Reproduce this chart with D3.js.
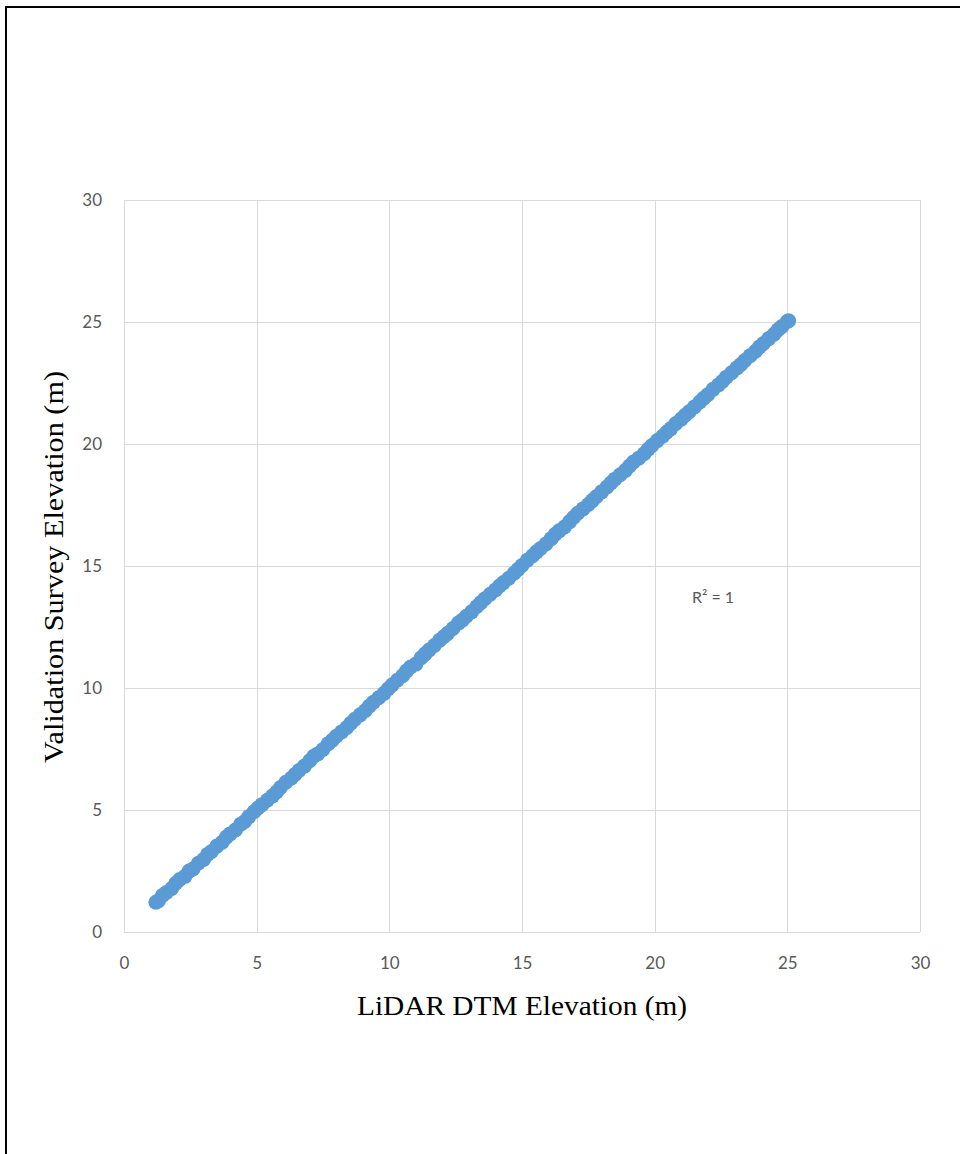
<!DOCTYPE html>
<html>
<head>
<meta charset="utf-8">
<script src="https://cdn.jsdelivr.net/npm/d3@7"></script>
<style>
  body { margin: 0; background: #fff; }
  svg { display: block; }
</style>
</head>
<body>
<div id="chart"></div>
<script>
// Datos
const xTicks = [0, 5, 10, 15, 20, 25, 30];
const yTicks = [0, 5, 10, 15, 20, 25, 30];
const lidarVals = [1.2,1.3,1.45,1.6,1.8,1.95,2.1,2.3,2.45,2.6,2.8,3.0,3.15,3.3,3.5,3.7,3.85,4.0,4.2,4.4,4.55,4.7,4.9,5.05,5.2,5.4,5.6,5.75,5.9,6.1,6.3,6.45,6.6,6.8,7.0,7.15,7.3,7.5,7.7,7.85,8.0,8.2,8.4,8.55,8.7,8.9,9.1,9.25,9.4,9.6,9.8,9.95,10.1,10.3,10.5,10.65,10.8,11.0,11.2,11.35,11.5,11.7,11.9,12.05,12.2,12.4,12.6,12.75,12.9,13.1,13.3,13.45,13.6,13.8,14.0,14.15,14.3,14.5,14.7,14.85,15.0,15.2,15.4,15.55,15.7,15.9,16.1,16.25,16.4,16.6,16.8,16.95,17.1,17.3,17.5,17.65,17.8,18.0,18.2,18.35,18.5,18.7,18.9,19.05,19.2,19.4,19.6,19.75,19.9,20.1,20.3,20.45,20.6,20.8,21.0,21.15,21.3,21.5,21.7,21.85,22.0,22.2,22.4,22.55,22.7,22.9,23.1,23.25,23.4,23.6,23.8,23.95,24.1,24.3,24.5,24.65,24.8,25.0,25.05];
const surveyVals = [1.22,1.28,1.5,1.62,1.78,2.0,2.15,2.28,2.5,2.58,2.82,2.97,3.18,3.3,3.52,3.68,3.88,4.02,4.18,4.42,4.53,4.72,4.93,5.08,5.22,5.4,5.58,5.74,5.92,6.14,6.3,6.46,6.62,6.8,7.02,7.2,7.3,7.48,7.72,7.86,8.02,8.2,8.38,8.56,8.72,8.9,9.08,9.26,9.42,9.6,9.78,9.96,10.12,10.32,10.5,10.7,10.86,10.98,11.24,11.4,11.56,11.74,11.96,12.1,12.24,12.44,12.66,12.78,12.94,13.12,13.34,13.5,13.66,13.84,14.02,14.18,14.32,14.5,14.7,14.86,15.02,15.24,15.42,15.58,15.72,15.9,16.12,16.3,16.44,16.6,16.82,17.0,17.16,17.34,17.52,17.68,17.84,18.04,18.24,18.4,18.56,18.74,18.92,19.1,19.26,19.42,19.6,19.78,19.94,20.14,20.32,20.48,20.62,20.84,21.02,21.18,21.32,21.52,21.72,21.88,22.02,22.24,22.42,22.56,22.74,22.92,23.12,23.26,23.42,23.62,23.8,23.98,24.12,24.32,24.5,24.68,24.82,25.02,25.05];
const r2Label = 'R² = 1';

const width = 960, height = 1154;
const plot = { left: 124, right: 920, top: 200, bottom: 932 };

const svg = d3.select('#chart').append('svg')
  .attr('width', width)
  .attr('height', height);

// Marco exterior
svg.append('rect')
  .attr('x', 6).attr('y', 7)
  .attr('width', width + 10).attr('height', height + 10)
  .attr('fill', 'none')
  .attr('stroke', '#000')
  .attr('stroke-width', 2);

const x = d3.scaleLinear().domain([0, 30]).range([plot.left, plot.right]);
const y = d3.scaleLinear().domain([0, 30]).range([plot.bottom, plot.top]);

// Rejilla
const grid = svg.append('g').attr('stroke', '#d9d9d9').attr('stroke-width', 1);
grid.selectAll('line.v').data(xTicks).enter().append('line')
  .attr('x1', d => Math.round(x(d)) + 0.5).attr('x2', d => Math.round(x(d)) + 0.5)
  .attr('y1', plot.top).attr('y2', plot.bottom);
grid.selectAll('line.h').data(yTicks).enter().append('line')
  .attr('y1', d => Math.round(y(d)) + 0.5).attr('y2', d => Math.round(y(d)) + 0.5)
  .attr('x1', plot.left).attr('x2', plot.right);

// Ejes (solo etiquetas)
const xAxis = svg.append('g')
  .attr('transform', `translate(0,${plot.bottom})`)
  .call(d3.axisBottom(x).tickValues(xTicks).tickSize(0).tickPadding(25));
const yAxis = svg.append('g')
  .attr('transform', `translate(${plot.left},0)`)
  .call(d3.axisLeft(y).tickValues(yTicks).tickSize(0).tickPadding(22));
[xAxis, yAxis].forEach(a => {
  a.select('.domain').remove();
  a.selectAll('text')
    .attr('fill', '#595959')
    .style('font-family', 'Lato, "Liberation Sans", sans-serif')
    .style('font-size', '17px');
});

// Puntos
const pts = lidarVals.map((v, i) => ({ x: v, y: surveyVals[i] }));
svg.append('g').selectAll('circle')
  .data(pts)
  .enter().append('circle')
  .attr('cx', d => x(d.x))
  .attr('cy', d => y(d.y))
  .attr('r', 7.5)
  .attr('fill', '#5b9bd5');

// Etiqueta R²
svg.append('text')
  .attr('x', 713).attr('y', 603)
  .attr('text-anchor', 'middle')
  .attr('fill', '#595959')
  .style('font-family', 'Lato, "Liberation Sans", sans-serif')
  .style('font-size', '16px')
  .text(r2Label);

// Títulos de ejes
svg.append('text')
  .attr('x', 522).attr('y', 1015)
  .attr('text-anchor', 'middle')
  .attr('textLength', 330)
  .attr('lengthAdjust', 'spacingAndGlyphs')
  .style('font-family', '"Liberation Serif", "DejaVu Serif", serif')
  .style('font-size', '27px')
  .attr('fill', '#000')
  .text('LiDAR DTM Elevation  (m)');

svg.append('text')
  .attr('transform', 'translate(63,567) rotate(-90)')
  .attr('text-anchor', 'middle')
  .attr('textLength', 392)
  .attr('lengthAdjust', 'spacingAndGlyphs')
  .style('font-family', '"Liberation Serif", "DejaVu Serif", serif')
  .style('font-size', '27px')
  .attr('fill', '#000')
  .text('Validation  Survey Elevation  (m)');
</script>
</body>
</html>
